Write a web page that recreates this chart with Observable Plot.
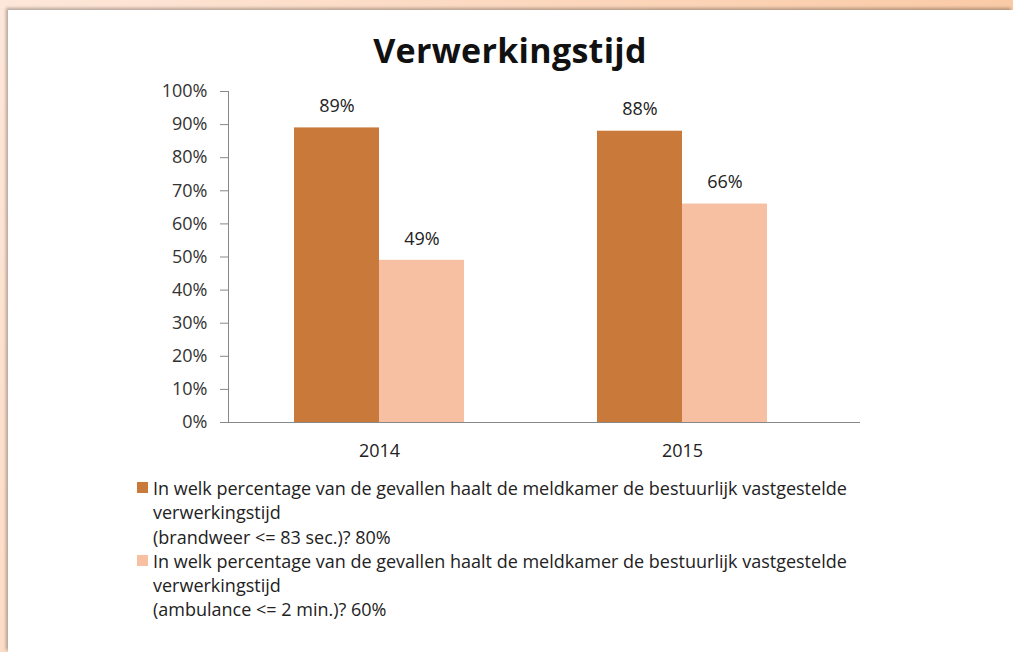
<!DOCTYPE html>
<html>
<head>
<meta charset="utf-8">
<script src="https://cdn.jsdelivr.net/npm/d3@7"></script>
<script src="https://cdn.jsdelivr.net/npm/@observablehq/plot@0.6"></script>
<style>
  html, body { margin: 0; padding: 0; }
  body {
    width: 1013px; height: 652px; position: relative; overflow: hidden;
    background: linear-gradient(120deg, #fde7da 0%, #fbd3b6 50%, #f8c093 100%);
    font-family: "Open Sans", sans-serif;
  }
  #panel {
    position: absolute; left: 8px; top: 10px; right: 0; bottom: 0;
    background: #fff;
    box-shadow: -2px -2px 3px rgba(0,0,0,0.28);
  }
  #title {
    position: absolute; left: 0; width: 1020px; top: 27px; text-align: center;
    font-family: "Open Sans", sans-serif; font-weight: 700; font-size: 34px; color: #111;
    letter-spacing: 0.3px; line-height: 46px;
  }
  #chart { position: absolute; left: 0; top: 70px; }
  #legend {
    position: absolute; left: 137px; top: 476px;
    font-family: "Open Sans", sans-serif; font-size: 18px; color: #222; line-height: 24.3px;
  }
  .entry { position: relative; padding-left: 16px; margin-bottom: 0; }
  .swatch { position: absolute; left: 0; top: 6px; width: 11px; height: 11px; }
</style>
</head>
<body>
<div id="panel"></div>
<div id="chart"></div>
<div id="title">Verwerkingstijd</div>
<div id="legend"></div>
<script>
const years = ["2014", "2015"];
const seriesNames = [
  ["In welk percentage van de gevallen haalt de meldkamer de bestuurlijk vastgestelde", "verwerkingstijd", "(brandweer <= 83 sec.)? 80%"],
  ["In welk percentage van de gevallen haalt de meldkamer de bestuurlijk vastgestelde", "verwerkingstijd", "(ambulance <= 2 min.)? 60%"]
];
const brandweer = [0.89, 0.88];
const ambulance = [0.49, 0.66];
const colors = ["#c97a3a", "#f8c0a2"];
const yTicks = [0, 0.1, 0.2, 0.3, 0.4, 0.5, 0.6, 0.7, 0.8, 0.9, 1.0];

const rows = [];
years.forEach((y, i) => {
  rows.push({year: y, s: 0, v: brandweer[i]});
  rows.push({year: y, s: 1, v: ambulance[i]});
});
const half = 85;
const pct = d3.format(".0%");

const chart = Plot.plot({
  width: 1013,
  height: 397,
  marginLeft: 228,
  marginRight: 153,
  marginTop: 21,
  marginBottom: 45,
  style: {fontFamily: "Open Sans, sans-serif", fontSize: "18px", color: "#333", background: "transparent"},
  x: {domain: years, range: [228, 834], paddingInner: 0.4389, paddingOuter: 0.21945, label: null},
  y: {domain: [0, 1], label: null},
  marks: [
    Plot.barY(rows.filter(d => d.s === 0), {x: "year", y: "v", fill: colors[0], insetRight: half, insetLeft: 0}),
    Plot.barY(rows.filter(d => d.s === 1), {x: "year", y: "v", fill: colors[1], insetLeft: half, insetRight: 0}),
    Plot.text(rows.filter(d => d.s === 0), {x: "year", y: "v", text: d => pct(d.v), dx: -half / 2, dy: -21.5, fill: "#222", fontSize: 18}),
    Plot.text(rows.filter(d => d.s === 1), {x: "year", y: "v", text: d => pct(d.v), dx: half / 2, dy: -21.5, fill: "#222", fontSize: 18}),
    Plot.axisY({ticks: yTicks, tickFormat: pct, tickSize: 8, tickPadding: 13, stroke: "#888", fill: "#333", fontSize: 18}),
    Plot.axisX({tickSize: 0, tickPadding: 22, fill: "#222", fontSize: 18}),
    Plot.frame({anchor: "left", stroke: "#888"}),
    Plot.ruleY([0], {stroke: "#888"})
  ]
});
document.getElementById("chart").appendChild(chart);

const legend = document.getElementById("legend");
seriesNames.forEach((lines, i) => {
  const e = document.createElement("div");
  e.className = "entry";
  const sw = document.createElement("span");
  sw.className = "swatch";
  sw.style.background = colors[i];
  e.appendChild(sw);
  lines.forEach(l => {
    const ln = document.createElement("div");
    ln.textContent = l;
    e.appendChild(ln);
  });
  legend.appendChild(e);
});
</script>
</body>
</html>
